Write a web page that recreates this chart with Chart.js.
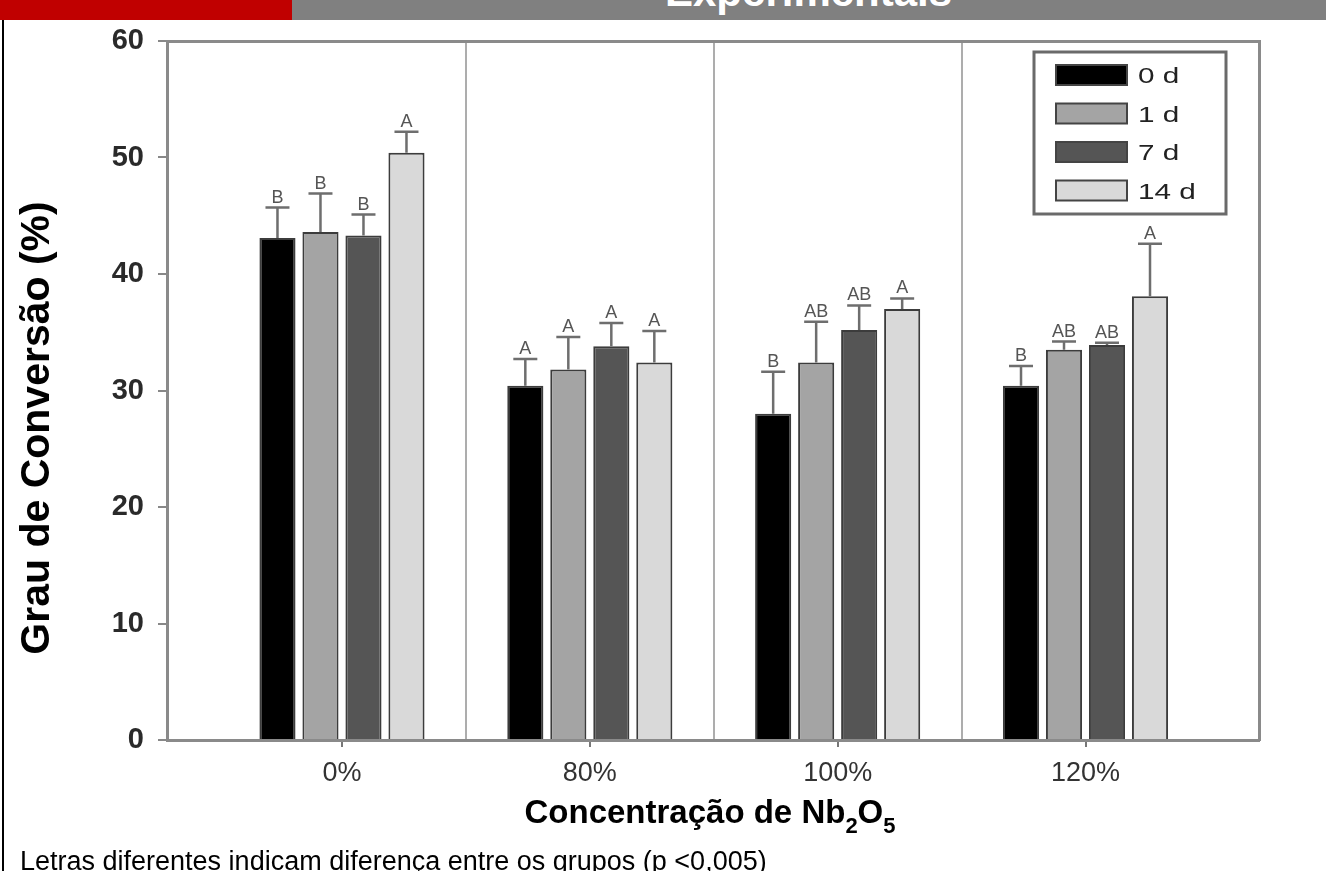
<!DOCTYPE html>
<html>
<head>
<meta charset="utf-8">
<script src="https://cdn.jsdelivr.net/npm/chart.js@4/dist/chart.umd.min.js"></script>
<style>
  body { margin: 0; width: 1326px; height: 871px; overflow: hidden; background: #fff; position: relative;
         font-family: "Liberation Sans", Arial, sans-serif; }
  #c { position: absolute; left: 0; top: 0; }
  #banner { position: absolute; left: 0; top: 0; width: 1326px; height: 20px; background: #808080; overflow: hidden; z-index: 2; }
  #banner .red { position: absolute; left: 0; top: 0; width: 292px; height: 20px; background: #c00000; }
  #banner .txt { position: absolute; left: 665px; top: -29px; color: #fff; font-weight: bold; font-size: 42px; line-height: 42px; white-space: nowrap; }
  #edge { position: absolute; left: 2px; top: 20px; width: 2px; height: 851px; background: #000; z-index: 2; }
  #note { position: absolute; left: 20px; top: 846px; font-size: 27px; line-height: 30px; color: #000; white-space: nowrap; z-index: 2; }
</style>
</head>
<body>
<div id="banner"><div class="red"></div><div class="txt">Experimentais</div></div>
<div id="edge"></div>
<canvas id="c" width="1326" height="871"></canvas>
<div id="note">Letras diferentes indicam diferença entre os grupos (p &lt;0,005)</div>
<script>
// dados
const groups = ['0%', '80%', '100%', '120%'];
const days = ['0 d', '1 d', '7 d', '14 d'];
const d0 = [43.1, 30.4, 28.0, 30.4];
const d1 = [43.6, 31.8, 32.4, 33.5];
const d7 = [43.3, 33.8, 35.2, 33.9];
const d14 = [50.4, 32.4, 37.0, 38.1];
const sd0 = [2.6, 2.3, 3.6, 1.7];
const sd1 = [3.3, 2.8, 3.5, 0.7];
const sd7 = [1.8, 2.0, 2.1, 0.2];
const sd14 = [1.8, 2.7, 0.9, 4.5];
const let0 = ['B', 'A', 'B', 'B'];
const let1 = ['B', 'A', 'AB', 'AB'];
const let7 = ['B', 'A', 'AB', 'AB'];
const let14 = ['A', 'A', 'A', 'A'];
const yTicks = [0, 10, 20, 30, 40, 50, 60];
const dividers = [0.5, 1.5, 2.5];

const fills = ['#000000', '#a4a4a4', '#555555', '#d9d9d9'];
const series = [d0, d1, d7, d14];
const sds = [sd0, sd1, sd7, sd14];
const letters = [let0, let1, let7, let14];

Chart.defaults.font.family = '"Liberation Sans", Arial, sans-serif';

function makeDataset(k) {
    return {
        label: days[k],
        data: series[k].map((v, i) => ({ x: i, y: v })),
        sd: sds[k],
        letters: letters[k],
        backgroundColor: fills[k],
        borderColor: '#3c3c3c',
        borderWidth: 2,
        categoryPercentage: 0.694,
        barPercentage: 0.84
    };
}

// barras de erro (só para cima) e letras
const errorBars = {
    id: 'errorBars',
    afterDatasetsDraw(chart) {
        const ctx = chart.ctx;
        const y = chart.scales.y;
        chart.data.datasets.forEach((ds, di) => {
            const meta = chart.getDatasetMeta(di);
            meta.data.forEach((bar, i) => {
                const top = y.getPixelForValue(ds.data[i].y + ds.sd[i]);
                ctx.save();
                ctx.strokeStyle = '#6e6e6e';
                ctx.lineWidth = 2.5;
                ctx.beginPath();
                ctx.moveTo(bar.x, bar.y);
                ctx.lineTo(bar.x, top);
                ctx.moveTo(bar.x - 12, top);
                ctx.lineTo(bar.x + 12, top);
                ctx.stroke();
                ctx.fillStyle = '#555';
                ctx.font = '18px "Liberation Sans", Arial';
                ctx.textAlign = 'center';
                ctx.textBaseline = 'alphabetic';
                ctx.fillText(ds.letters[i], bar.x, top - 5);
                ctx.restore();
            });
        });
    }
};

// legenda dentro da área do gráfico
const boxLegend = {
    id: 'boxLegend',
    afterDraw(chart) {
        const ctx = chart.ctx;
        const a = chart.chartArea;
        const x0 = a.right - 225, y0 = a.top + 11;
        ctx.save();
        ctx.fillStyle = '#fff';
        ctx.fillRect(x0, y0, 192, 162);
        ctx.strokeStyle = '#6a6a6a';
        ctx.lineWidth = 3;
        ctx.strokeRect(x0, y0, 192, 162);
        chart.data.datasets.forEach((ds, i) => {
            const ry = y0 + 13 + i * 38.5;
            ctx.fillStyle = ds.backgroundColor;
            ctx.fillRect(x0 + 22, ry, 71, 20);
            ctx.strokeStyle = '#444';
            ctx.lineWidth = 2;
            ctx.strokeRect(x0 + 22, ry, 71, 20);
            ctx.save();
            ctx.translate(x0 + 104, ry + 18);
            ctx.scale(1.35, 1);
            ctx.fillStyle = '#222';
            ctx.font = '22px "Liberation Sans", Arial';
            ctx.textAlign = 'left';
            ctx.textBaseline = 'alphabetic';
            ctx.fillText(ds.label, 0, 0);
            ctx.restore();
        });
        ctx.restore();
    }
};

// títulos dos eixos (com subscritos)
const axisTitles = {
    id: 'axisTitles',
    afterDraw(chart) {
        const ctx = chart.ctx;
        ctx.save();
        ctx.fillStyle = '#000';
        ctx.translate(38, 428);
        ctx.rotate(-Math.PI / 2);
        ctx.font = 'bold 41px "Liberation Sans", Arial';
        ctx.textAlign = 'center';
        ctx.textBaseline = 'middle';
        ctx.fillText('Grau de Conversão (%)', 0, 0);
        ctx.restore();

        const parts = [['Concentração de Nb', 0], ['2', 1], ['O', 0], ['5', 1]];
        const big = 'bold 33px "Liberation Sans", Arial';
        const small = 'bold 22px "Liberation Sans", Arial';
        ctx.save();
        let w = 0;
        parts.forEach(p => { ctx.font = p[1] ? small : big; w += ctx.measureText(p[0]).width; });
        let x = 710 - w / 2;
        ctx.fillStyle = '#000';
        ctx.textBaseline = 'alphabetic';
        parts.forEach(p => {
            ctx.font = p[1] ? small : big;
            ctx.fillText(p[0], x, p[1] ? 833 : 823);
            x += ctx.measureText(p[0]).width;
        });
        ctx.restore();
    }
};

const frame = { display: true, color: '#8a8a8a', width: 3 };

new Chart(document.getElementById('c'), {
    type: 'bar',
    data: { datasets: [0, 1, 2, 3].map(makeDataset) },
    options: {
        responsive: false,
        animation: false,
        layout: { padding: { top: 41, right: 67, left: 0, bottom: 0 } },
        plugins: { legend: { display: false }, tooltip: { enabled: false } },
        scales: {
            x: {
                type: 'linear',
                offset: false,
                min: -0.706,
                max: 3.70,
                position: 'bottom',
                afterBuildTicks: s => { s.ticks = groups.map((g, i) => ({ value: i })); },
                afterFit: s => { s.height = 131; },
                ticks: {
                    autoSkip: false,
                    maxRotation: 0,
                    padding: 10,
                    color: '#333',
                    font: { size: 27 },
                    callback: v => groups[v]
                },
                grid: { offset: false, drawOnChartArea: false, drawTicks: true, tickLength: 7, color: '#777', lineWidth: 2 },
                border: frame
            },
            x2: {
                type: 'linear',
                offset: false,
                min: -0.706,
                max: 3.70,
                position: 'top',
                afterBuildTicks: s => { s.ticks = dividers.map(v => ({ value: v })); },
                afterFit: s => { s.height = 0; },
                ticks: { display: false },
                grid: { offset: false, drawOnChartArea: true, drawTicks: false, color: '#adadad', lineWidth: 2 },
                border: frame
            },
            y: {
                min: 0,
                max: 60,
                afterBuildTicks: s => { s.ticks = yTicks.map(v => ({ value: v })); },
                afterFit: s => { s.width = 167; },
                ticks: { padding: 14, color: '#2a2a2a', font: { size: 29, weight: 'bold' } },
                grid: { drawOnChartArea: false, drawTicks: true, tickLength: 9, color: '#888', lineWidth: 2 },
                border: frame
            },
            y2: {
                min: 0,
                max: 60,
                position: 'right',
                afterFit: s => { s.width = 0; },
                ticks: { display: false },
                grid: { drawOnChartArea: false, drawTicks: false },
                border: frame
            }
        }
    },
    plugins: [errorBars, boxLegend, axisTitles]
});
</script>
</body>
</html>
